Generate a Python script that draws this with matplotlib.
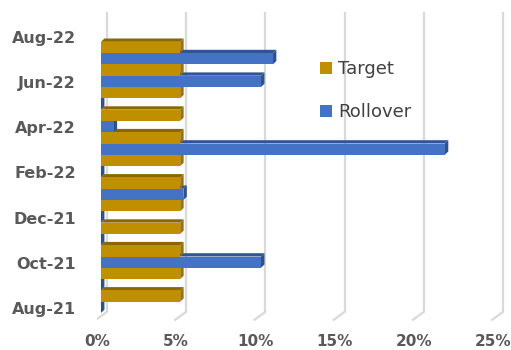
import matplotlib
matplotlib.use("Agg")
import matplotlib.pyplot as plt
from matplotlib.patches import Polygon, Patch

months = ["Aug-21", "Sep-21", "Oct-21", "Nov-21", "Dec-21", "Jan-22", "Feb-22",
          "Mar-22", "Apr-22", "May-22", "Jun-22", "Jul-22", "Aug-22"]
target = [5, 5, 5, 5, 5, 5, 5, 5, 5, 5, 5, 5, None]
rollover = [0, 0, 10.1, 0, 0, 5.2, 0, 21.7, 0.8, 0, 10.1, 10.85, None]
x_ticks = [0, 5, 10, 15, 20, 25]
x_tick_labels = ["0%", "5%", "10%", "15%", "20%", "25%"]

W, H = 511, 350
fig = plt.figure(figsize=(W / 100, H / 100), dpi=100)

px_per_x = 16.0      # pixels per percent
px_per_y = 11.3      # pixels per bar unit
x0_px, y0_px = 97, 313
xmax = (510 - x0_px) / px_per_x
ymin, ymax = -1.0, 27.0
left = x0_px / W
bottom = (H - (y0_px - ymin * px_per_y)) / H
width = (xmax * px_per_x) / W
height = ((ymax - ymin) * px_per_y) / H
ax = fig.add_axes([left, bottom, width, height])
ax.set_xlim(0, xmax)
ax.set_ylim(ymin, ymax)
for s in ax.spines.values():
    s.set_visible(False)

dx = 3.5 / px_per_x
dy = 3.3 / px_per_y
gdx = 6 / px_per_x
grid_c = "#D9D9D9"

# back wall gridlines + floor
for v in x_ticks:
    ax.plot([v + gdx, v + gdx], [0.1, 26.6], color=grid_c, lw=1.6, zorder=0,
            solid_capstyle="butt")
    ax.plot([v + gdx, v - 5 / px_per_x], [0.1, -0.6], color=grid_c, lw=1.6, zorder=0)

colors = {
    "Target": ("#BF8F00", "#8A6700", "#9A7400"),
    "Rollover": ("#4472C4", "#2F5597", "#2F528F"),
}

def bar3d(val, b, name, z):
    front, top, side = colors[name]
    ax.barh(b + 0.5, val, height=1.0, left=0, color=front, zorder=z, linewidth=0)
    ax.add_patch(Polygon([(0, b + 1), (val, b + 1), (val + dx, b + 1 + dy), (dx, b + 1 + dy)],
                         closed=True, facecolor=top, edgecolor="none", zorder=z - 0.1))
    ax.add_patch(Polygon([(val, b), (val + dx, b + dy), (val + dx, b + 1 + dy), (val, b + 1)],
                         closed=True, facecolor=side, edgecolor="none", zorder=z - 0.1))

z = 2
for i in range(len(months)):
    if rollover[i] is not None:
        bar3d(rollover[i], 2 * i, "Rollover", z)
        z += 1
    if target[i] is not None:
        bar3d(target[i], 2 * i + 1, "Target", z)
        z += 1

# axis labels
ax.set_xticks([v - 0.25 for v in x_ticks])
ax.set_xticklabels(x_tick_labels, fontsize=11, fontweight="bold", color="#595959")
ax.tick_params(axis="x", length=0, pad=(340 - (y0_px - ymin * px_per_y)) / 1.389 - 4)
ytick_pos = [2 * i + 0.44 for i in range(0, len(months), 2)]
ax.set_yticks(ytick_pos)
ax.set_yticklabels(months[::2], fontsize=11.5, fontweight="bold", color="#595959")
ax.tick_params(axis="y", length=0, pad=(x0_px - 76) / 1.389)

handles = [Patch(facecolor="#BF8F00", edgecolor="none", label="Target"),
           Patch(facecolor="#4472C4", edgecolor="none", label="Rollover")]
fig.legend(handles=handles, loc="upper left", bbox_to_anchor=(304 / W, 1 - 44 / H),
           frameon=False, fontsize=13, handlelength=0.65, handleheight=0.65,
           handletextpad=0.35, labelspacing=1.38, labelcolor="#404040")

fig.savefig("out.png", dpi=100, facecolor="white")
